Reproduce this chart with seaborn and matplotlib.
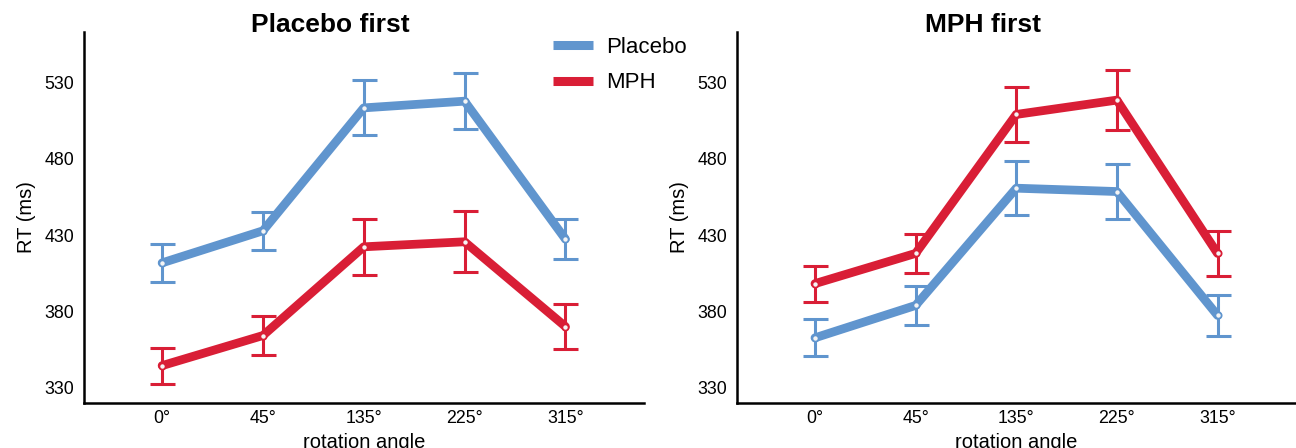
import matplotlib
matplotlib.use("Agg")
import matplotlib.pyplot as plt
from matplotlib.lines import Line2D
import seaborn as sns
import pandas as pd
import numpy as np

# rotation angles (x categories)
angles = ["0°", "45°", "135°", "225°", "315°"]

# Placebo first session
pf_placebo_mean = [411.8, 432.8, 513.3, 517.7, 427.4]
pf_placebo_se = [12.3, 12.4, 18.0, 18.4, 13.2]
pf_mph_mean = [344.5, 364.2, 422.3, 425.6, 370.1]
pf_mph_se = [11.8, 12.8, 18.4, 20.0, 14.6]

# MPH first session
mf_placebo_mean = [362.7, 383.9, 460.7, 458.5, 377.4]
mf_placebo_se = [12.2, 12.6, 17.7, 18.2, 13.2]
mf_mph_mean = [398.2, 418.0, 509.0, 518.4, 418.0]
mf_mph_se = [11.8, 12.7, 18.2, 19.9, 14.6]

yticks = [330, 380, 430, 480, 530]

blue = "#6095ce"
red = "#d91e36"
palette = {"Placebo": blue, "MPH": red}

sns.set_style("white")
plt.rcParams["font.family"] = ["Liberation Sans", "DejaVu Sans"]
plt.rcParams["text.color"] = "black"
plt.rcParams["axes.labelcolor"] = "black"


def make_df(pl_m, pl_s, mp_m, mp_s):
    rows = []
    for drug, m, s in [("Placebo", pl_m, pl_s), ("MPH", mp_m, mp_s)]:
        for a, mm, ss in zip(angles, m, s):
            rows.append({"angle": a, "drug": drug, "rt": mm, "se": ss})
    return pd.DataFrame(rows)


panels = [
    ("Placebo first", make_df(pf_placebo_mean, pf_placebo_se, pf_mph_mean, pf_mph_se)),
    ("MPH first", make_df(mf_placebo_mean, mf_placebo_se, mf_mph_mean, mf_mph_se)),
]

fig = plt.figure(figsize=(12.96, 4.48), dpi=100)
ax_pos = [[84 / 1296, 45 / 448, 560 / 1296, 371 / 448],
          [737 / 1296, 45 / 448, 559 / 1296, 371 / 448]]

for pos, (title, df) in zip(ax_pos, panels):
    ax = fig.add_axes(pos)
    xpos = np.arange(len(angles))
    for drug in ["Placebo", "MPH"]:
        sub = df[df["drug"] == drug]
        ax.errorbar(xpos, sub["rt"], yerr=sub["se"], fmt="none",
                    ecolor=palette[drug], elinewidth=2.2, capsize=9,
                    capthick=2.2, zorder=2)
    sns.pointplot(data=df, x="angle", y="rt", hue="drug", order=angles,
                  hue_order=["Placebo", "MPH"], palette=palette,
                  errorbar=None, markers="o", linewidth=6.3, markersize=4.5,
                  markerfacecolor="#f4f4f4", markeredgewidth=1.3,
                  ax=ax, legend=False, zorder=3)
    ax.set_xlim(-0.775, 4.78)
    ax.set_ylim(320, 563)
    ax.set_yticks(yticks)
    ax.tick_params(axis="both", length=0, labelsize=12.8, colors="black")
    ax.tick_params(axis="y", pad=7)
    ax.tick_params(axis="x", pad=5)
    ax.set_xlabel("rotation angle", fontsize=14.5)
    ax.set_ylabel("RT (ms)", fontsize=14.5, labelpad=6)
    ax.set_title(title, fontsize=19, fontweight="bold", x=0.44, pad=0)
    sns.despine(ax=ax)
    for sp in ["left", "bottom"]:
        ax.spines[sp].set_color("black")
        ax.spines[sp].set_linewidth(1.8)

handles = [Line2D([0], [0], color=blue, lw=6.5, solid_capstyle="butt"),
           Line2D([0], [0], color=red, lw=6.5, solid_capstyle="butt")]
fig.legend(handles, ["Placebo", "MPH"], loc="upper left",
           bbox_to_anchor=(553 / 1296, 1 - 37 / 448), frameon=False,
           fontsize=16, handlelength=1.8, handletextpad=0.6,
           labelspacing=0.65, borderpad=0, borderaxespad=0)

fig.savefig("out.png", dpi=100)
